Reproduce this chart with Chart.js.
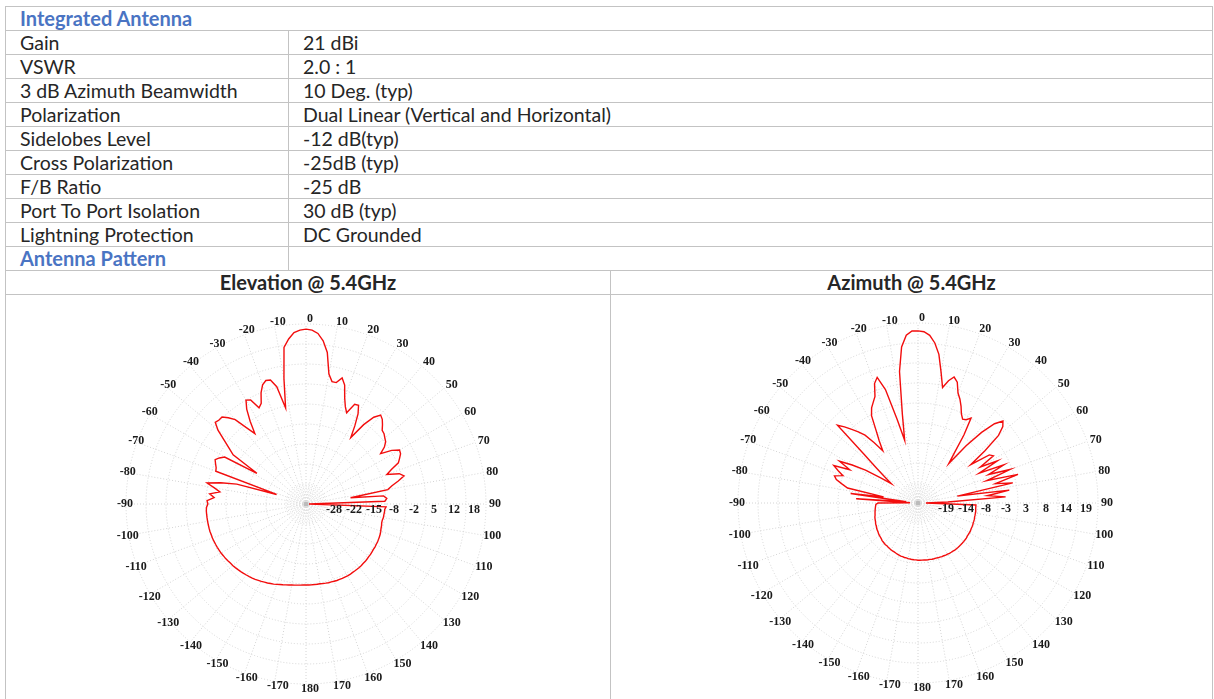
<!DOCTYPE html>
<html>
<head>
<meta charset="utf-8">
<script src="https://cdn.jsdelivr.net/npm/chart.js@4.4.1/dist/chart.umd.min.js"></script>
<style>
html, body { margin: 0; padding: 0; background: #fff; overflow: hidden; }
body { width: 1214px; height: 699px; position: relative; font-family: Lato, "Open Sans", sans-serif; font-size: 19.5px; color: #262626; }
table.spec { position: absolute; left: 5px; top: 6px; width: 1207px; border-collapse: collapse; table-layout: fixed; }
table.spec td { border: 1px solid #c3c3c3; height: 23px; line-height: 23px; padding: 0 0 0 14px; white-space: nowrap; overflow: hidden; }
table.spec td.hd { color: #4a74c3; font-weight: bold; font-size: 20px; }
table.spec td.pat { text-align: center; font-weight: bold; font-size: 20px; padding: 0; }
table.spec td.plot { height: 420px; }
canvas { position: absolute; }
#elevation { left: 96px; top: 294px; }
#azimuth { left: 708px; top: 293px; }
</style>
</head>
<body>
<table class="spec">
  <colgroup><col style="width:283px"><col style="width:322px"><col style="width:602px"></colgroup>
  <tr><td class="hd" colspan="3">Integrated Antenna</td></tr>
  <tr><td>Gain</td><td colspan="2">21 dBi</td></tr>
  <tr><td>VSWR</td><td colspan="2">2.0 : 1</td></tr>
  <tr><td>3 dB Azimuth Beamwidth</td><td colspan="2">10 Deg. (typ)</td></tr>
  <tr><td>Polarization</td><td colspan="2">Dual Linear (Vertical and Horizontal)</td></tr>
  <tr><td>Sidelobes Level</td><td colspan="2">-12 dB(typ)</td></tr>
  <tr><td>Cross Polarization</td><td colspan="2">-25dB (typ)</td></tr>
  <tr><td>F/B Ratio</td><td colspan="2">-25 dB</td></tr>
  <tr><td>Port To Port Isolation</td><td colspan="2">30 dB (typ)</td></tr>
  <tr><td>Lightning Protection</td><td colspan="2">DC Grounded</td></tr>
  <tr><td class="hd">Antenna Pattern</td><td colspan="2"></td></tr>
  <tr><td class="pat" colspan="2">Elevation @ 5.4GHz</td><td class="pat">Azimuth @ 5.4GHz</td></tr>
  <tr><td class="plot" colspan="2"></td><td class="plot"></td></tr>
</table>
<canvas id="elevation" width="420" height="420"></canvas>
<canvas id="azimuth" width="420" height="420"></canvas>
<script>
// pattern sampled every 2 degrees, clockwise from 0 (top): 0, 2, ... 180, -178, ... -2
var angleStep = 2;

// angle labels every 10 degrees, clockwise from the top
var angleTicks = ['0', '10', '20', '30', '40', '50', '60', '70', '80', '90',
    '100', '110', '120', '130', '140', '150', '160', '170', '180',
    '-170', '-160', '-150', '-140', '-130', '-120', '-110', '-100', '-90',
    '-80', '-70', '-60', '-50', '-40', '-30', '-20', '-10'];

// ring labels drawn along the 90 degree spoke
var elevRingLabels = ['-28', '-22', '-15', '-8', '-2', '5', '12', '18'];
var aziRingLabels = ['-19', '-14', '-8', '-3', '3', '8', '14', '19'];

// radial range (dB) of each plot
var elevMin = -35, elevMax = 25;
var aziMin = -25, aziMax = 25;

// Elevation @ 5.4GHz, dB
var elevationGain = [
    23.3, 23.0, 22.0, 19.7, 16.0, 9.0, 6.7, 6.7, 8.7, 6.7,
    2.7, 0.0, -1.7, 2.0, 2.3, -0.3, -4.3, -8.3, -2.3, 1.7,
    3.7, 3.0, 1.7, 0.3, 0.0, -0.7, -1.3, -2.7, -5.0, -1.3,
    1.0, 0.7, -0.3, -1.3, -4.3, -6.3, -2.3, -1.0, -3.3, -5.7,
    -7.3, -20.0, -9.0, -8.0, -8.7, -34.0, -8.3, -8.7, -8.7, -8.8,
    -8.8, -9.0, -9.0, -8.8, -8.7, -8.5, -8.3, -8.2, -8.1, -8.0,
    -8.0, -7.9, -7.9, -7.8, -7.7, -7.7, -7.6, -7.5, -7.5, -7.4,
    -7.4, -7.4, -7.4, -7.4, -7.3, -7.3, -7.4, -7.4, -7.5, -7.5,
    -7.6, -7.7, -7.7, -7.8, -7.9, -8.0, -8.0, -8.0, -8.0, -8.0,
    -8.0, -8.0, -7.9, -7.8, -7.7, -7.6, -7.4, -7.2, -7.0, -6.8,
    -6.5, -6.2, -6.0, -5.7, -5.5, -5.2, -5.0, -4.7, -4.5, -4.3,
    -4.1, -3.9, -3.7, -3.5, -3.3, -3.1, -3.0, -2.8, -2.6, -2.5,
    -2.3, -2.2, -2.1, -2.0, -1.9, -1.8, -1.8, -1.7, -1.7, -1.7,
    -1.7, -1.7, -1.7, -1.7, -1.8, -2.3, -2.0, -4.3, -2.7, -6.0,
    -4.0, -1.3, -5.7, -11.0, -24.7, -3.0, -2.7, -2.0, -1.3, -2.3,
    -3.7, -15.7, -5.7, -3.3, -0.3, 3.3, 5.7, 5.3, 5.3, 3.7,
    1.7, -2.7, -6.0, -1.7, 2.3, 5.0, 4.3, 0.7, 1.7, 5.0,
    7.3, 8.3, 8.0, 5.3, -2.3, 7.3, 17.7, 20.3, 22.3, 23.0
];

// Azimuth @ 5.4GHz, dB
var azimuthGain = [
    22.8, 22.6, 21.7, 19.7, 16.7, 11.9, 7.8, 10.0, 11.4, 10.3,
    7.5, 6.1, 4.4, 2.5, 1.4, 1.7, 2.8, -2.2, -7.8, -11.1,
    -4.2, 1.4, 5.6, 7.8, 6.7, 4.2, -1.4, -6.9, -1.1, -0.3,
    -5.0, 0.0, -6.1, 1.1, -3.9, 2.2, -5.0, 3.9, -2.8, 1.9,
    -13.9, 0.6, -5.6, -0.6, -16.7, -22.8, -8.9, -8.9, -8.9, -8.8,
    -8.8, -8.8, -8.8, -8.7, -8.7, -8.7, -8.6, -8.6, -8.6, -8.5,
    -8.5, -8.5, -8.5, -8.4, -8.4, -8.4, -8.4, -8.4, -8.4, -8.4,
    -8.4, -8.4, -8.5, -8.5, -8.5, -8.6, -8.6, -8.7, -8.7, -8.8,
    -8.8, -8.9, -8.9, -8.9, -9.0, -9.0, -9.0, -9.1, -9.1, -9.1,
    -9.1, -9.2, -9.2, -9.2, -9.3, -9.3, -9.4, -9.4, -9.5, -9.5,
    -9.6, -9.7, -9.8, -9.9, -9.9, -10.0, -10.1, -10.2, -10.3, -10.3,
    -10.4, -10.5, -10.6, -10.8, -10.9, -11.0, -11.1, -11.3, -11.4, -11.5,
    -11.7, -11.8, -11.9, -12.1, -12.2, -12.3, -12.4, -12.6, -12.7, -12.8,
    -12.9, -13.0, -13.1, -13.2, -13.3, -13.9, -22.8, -7.8, -21.7, -6.1,
    -15.3, -5.0, -3.3, -1.4, -0.6, -2.8, -1.1, 0.6, -3.9, -0.3,
    -3.9, -7.8, -12.5, -15.8, -13.3, -10.0, -5.0, 6.1, 4.4, 2.5,
    0.8, -1.1, -4.2, -7.5, -4.7, -1.7, 2.5, 4.4, 5.6, 6.9,
    10.3, 11.7, 7.8, -1.1, -7.2, 0.0, 11.9, 18.6, 21.7, 22.8
];

var angleLabels = [];
for (var a = 0; a < 360; a += angleStep) {
    angleLabels.push(a <= 180 ? a : a - 360);
}
var labelEvery = 10 / angleStep;

// inner dotted rings, centre dot and the serif labels of the polar plot
var polarDecor = {
    id: 'polarDecor',
    beforeDatasetsDraw: function (chart) {
        var r = chart.scales.r, ctx = chart.ctx;
        var inner = r.getDistanceFromCenterForValue(r.ticks[1].value);
        ctx.save();
        ctx.strokeStyle = '#d6d6d6';
        ctx.lineWidth = 0.8;
        ctx.setLineDash([1, 1.5]);
        for (var k = 1; k < 7; k++) {
            ctx.beginPath();
            ctx.arc(r.xCenter, r.yCenter, inner * k / 7, 0, Math.PI * 2);
            ctx.stroke();
        }
        ctx.setLineDash([]);
        ctx.fillStyle = '#bbbbbb';
        ctx.beginPath();
        ctx.arc(r.xCenter, r.yCenter, 2.5, 0, Math.PI * 2);
        ctx.fill();
        ctx.restore();
    },
    afterDraw: function (chart) {
        var r = chart.scales.r, ctx = chart.ctx;
        var ringLabels = chart.options.plugins.polarDecor.ringLabels;
        ctx.save();
        ctx.font = 'bold 12px "Liberation Serif", serif';
        ctx.fillStyle = '#1a1a1a';
        ctx.textAlign = 'center';
        ctx.textBaseline = 'middle';
        angleTicks.forEach(function (txt, k) {
            var p = r.getPointPosition(k * labelEvery, r.drawingArea + 5);
            ctx.fillText(txt, p.x + 4, p.y);
        });
        ringLabels.forEach(function (txt, k) {
            var d = r.getDistanceFromCenterForValue(r.ticks[k + 1].value);
            ctx.fillText(txt, r.xCenter + d + 8, r.yCenter + 6);
        });
        ctx.restore();
    }
};

function makePolar(canvasId, values, min, max, ringLabels) {
    var ctx = document.getElementById(canvasId).getContext('2d');
    return new Chart(ctx, {
        type: 'radar',
        data: {
            labels: angleLabels,
            datasets: [{
                data: values,
                borderColor: '#f20d0d',
                borderWidth: 1.4,
                pointRadius: 0,
                fill: false,
                tension: 0
            }]
        },
        options: {
            responsive: false,
            animation: false,
            layout: { padding: 30 },
            plugins: {
                legend: { display: false },
                tooltip: { enabled: false },
                polarDecor: { ringLabels: ringLabels }
            },
            scales: {
                r: {
                    min: min,
                    max: max,
                    ticks: { display: false, count: 10 },
                    pointLabels: { display: false },
                    grid: { circular: true, color: '#d4d4d4', lineWidth: 1 },
                    border: { dash: [1, 2] },
                    angleLines: {
                        color: '#d4d4d4',
                        borderDash: [1, 2],
                        lineWidth: function (c) { return c.index % labelEvery === 0 ? 1 : 0; }
                    }
                }
            }
        },
        plugins: [polarDecor]
    });
}

var elevationChart = makePolar('elevation', elevationGain, elevMin, elevMax, elevRingLabels);
var azimuthChart = makePolar('azimuth', azimuthGain, aziMin, aziMax, aziRingLabels);
</script>
</body>
</html>
